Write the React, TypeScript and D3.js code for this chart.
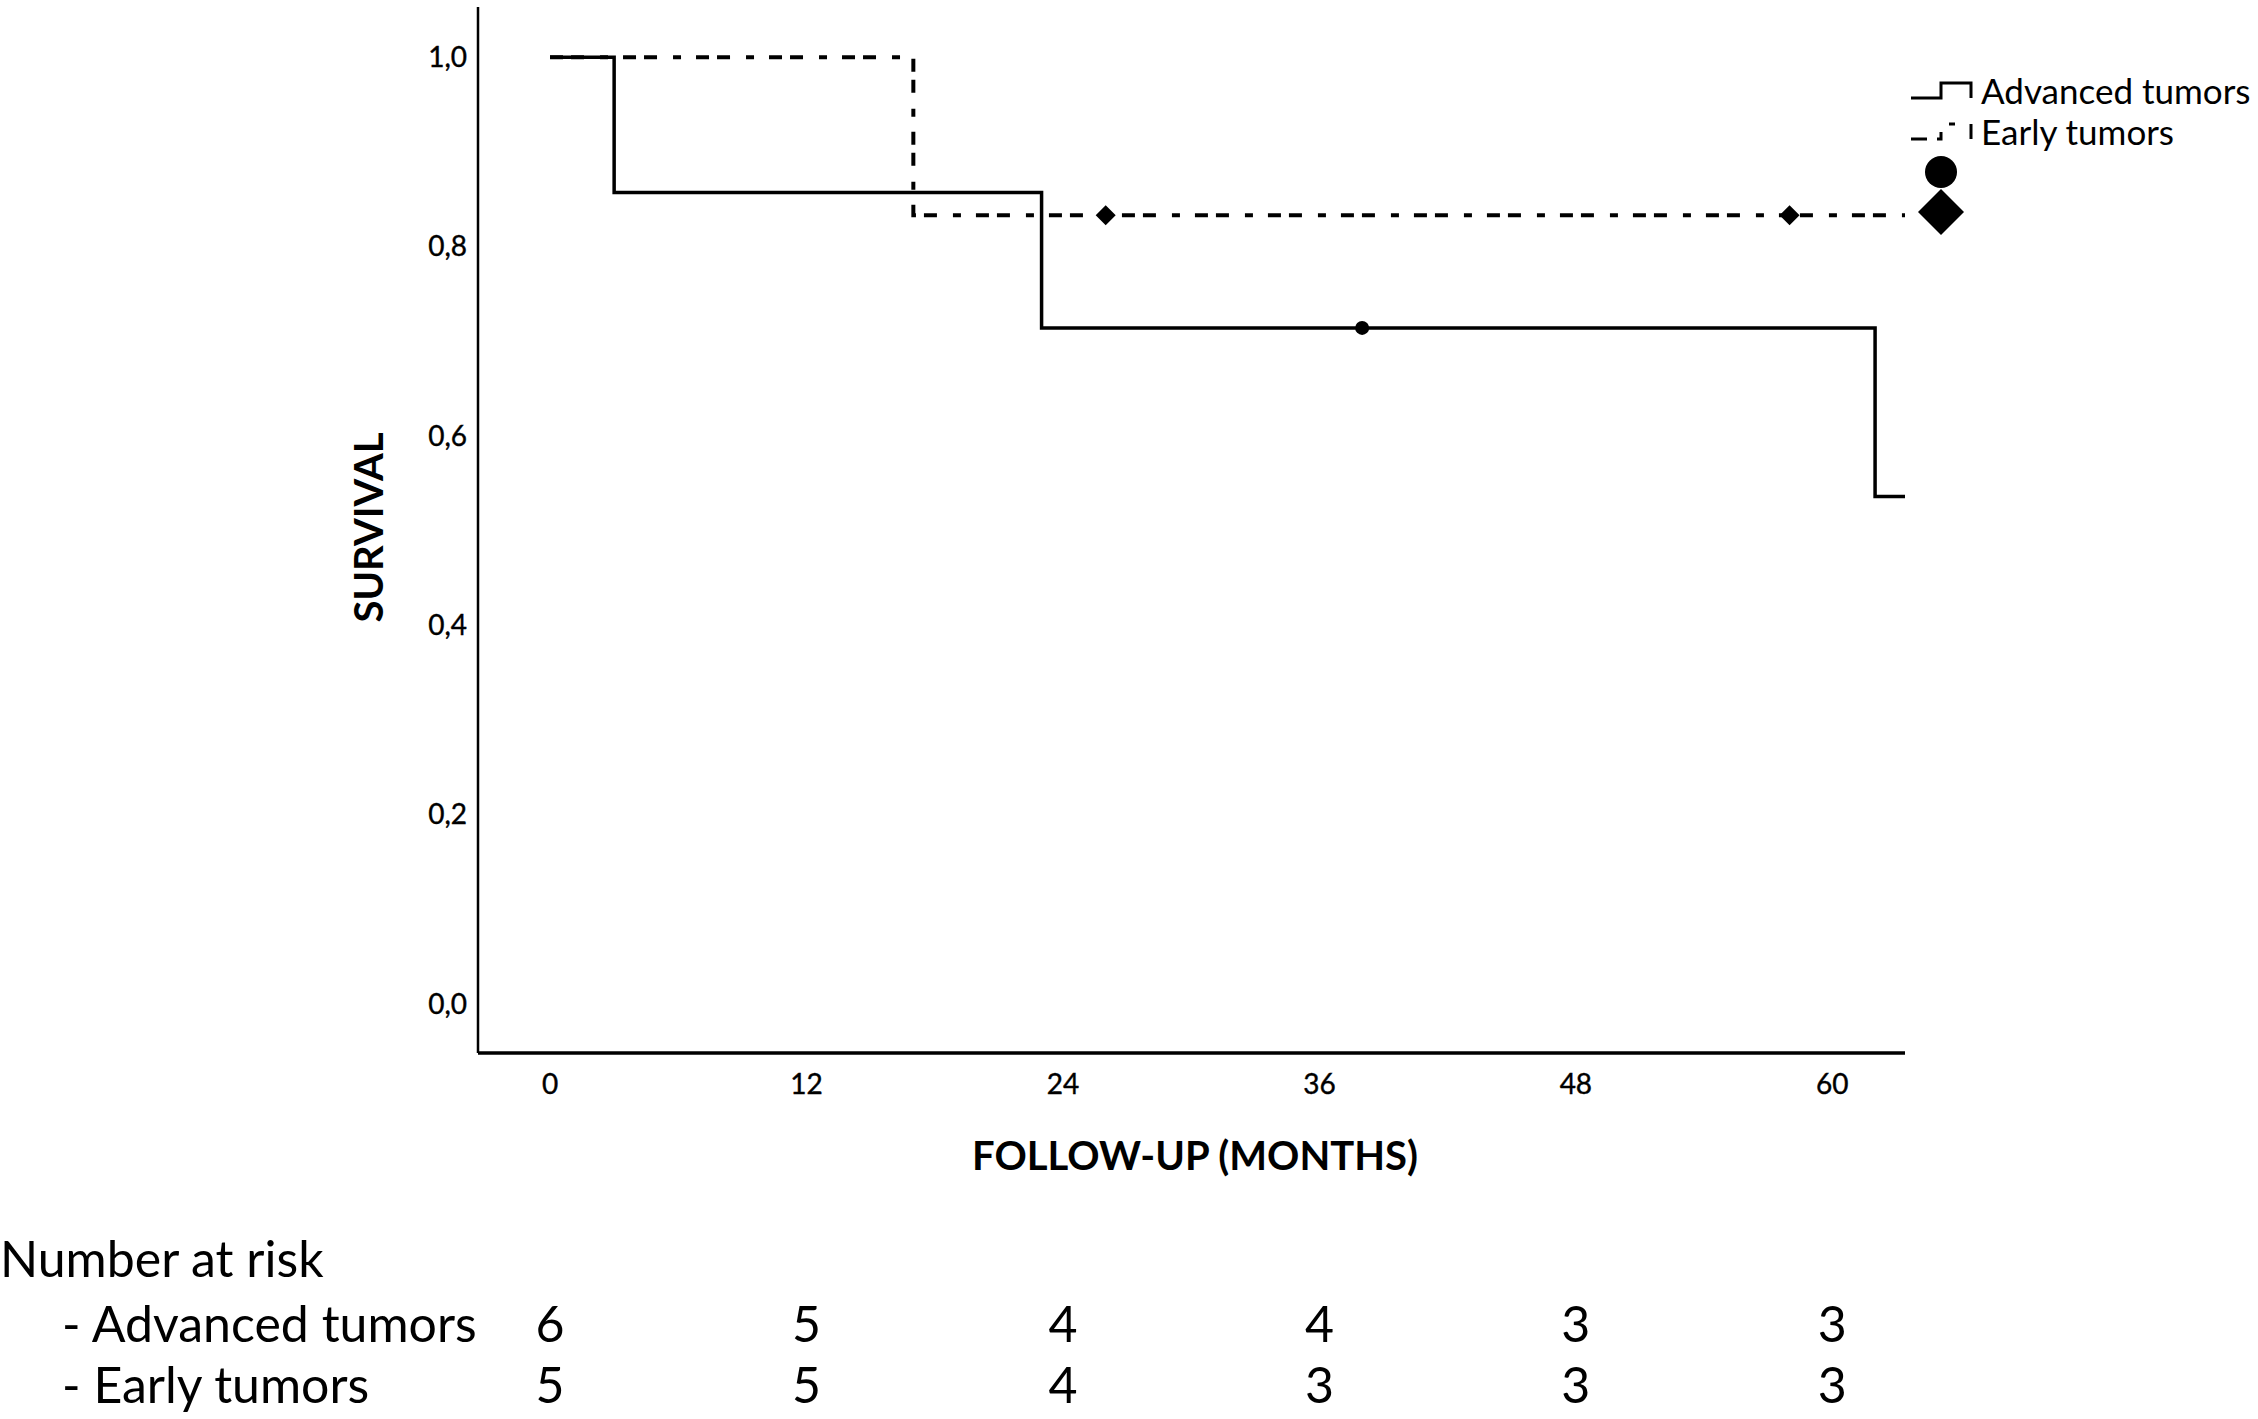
import React from "react";
import * as d3 from "d3";

// ---- data ----
const advancedTimes = [0, 3, 23, 62];
const advancedSurvival = [1, 0.857, 0.714, 0.536];
const advancedCensored = [38];
const earlyTimes = [0, 17];
const earlySurvival = [1, 0.833];
const earlyCensored = [26, 58];
const followUpEnd = 63.4;
const xTicks = [0, 12, 24, 36, 48, 60];
const yTicks = [0, 0.2, 0.4, 0.6, 0.8, 1.0];
const riskTimes = [0, 12, 24, 36, 48, 60];
const riskAdvanced = [6, 5, 4, 4, 3, 3];
const riskEarly = [5, 5, 4, 3, 3, 3];
const seriesNames = ["Advanced tumors", "Early tumors"];

const W = 2258;
const H = 1419;
const FONT = "Lato, 'Open Sans', sans-serif";
const DASH = "13 8 13 16 8 15";

const x = d3.scaleLinear().domain([-3.37, followUpEnd]).range([478, 1905]);
const y = d3.scaleLinear().domain([-0.052, 1.053]).range([1053, 7]);

const stepLine = d3
  .line<[number, number]>()
  .x((d) => x(d[0]))
  .y((d) => y(d[1]))
  .curve(d3.curveStepAfter);

function pts(times: number[], surv: number[]): [number, number][] {
  const p: [number, number][] = times.map((t, i) => [t, surv[i]] as [number, number]);
  p.push([followUpEnd, surv[surv.length - 1]]);
  return p;
}

function survAt(times: number[], surv: number[], t: number) {
  let v = surv[0];
  times.forEach((tt, i) => {
    if (tt <= t) v = surv[i];
  });
  return v;
}

function diamond(cx: number, cy: number, r: number) {
  return `M${cx},${cy - r}L${cx + r},${cy}L${cx},${cy + r}L${cx - r},${cy}Z`;
}

const fmt = (v: number) => d3.format(".1f")(v).replace(".", ",");

export default function App() {
  const legendX = 1911;
  const legendY = [98, 139];
  return (
    <svg
      width={W}
      height={H}
      style={{ position: "absolute", left: 0, top: 0, background: "#fff" }}
      fontFamily={FONT}
    >
      <rect x={0} y={0} width={W} height={H} fill="#fff" />
      {/* axes */}
      <line x1={x.range()[0]} x2={x.range()[0]} y1={y.range()[1]} y2={y.range()[0]} stroke="#000" strokeWidth={2.5} />
      <line x1={x.range()[0]} x2={x.range()[1]} y1={y.range()[0]} y2={y.range()[0]} stroke="#000" strokeWidth={3.5} />
      {yTicks.map((t) => (
        <text key={t} x={467} y={y(t)} dy="0.35em" textAnchor="end" fontSize={28} stroke="#000" strokeWidth={0.4}>
          {fmt(t)}
        </text>
      ))}
      {xTicks.map((t) => (
        <text key={t} x={x(t)} y={1094} textAnchor="middle" fontSize={28} stroke="#000" strokeWidth={0.4}>
          {t}
        </text>
      ))}
      <text x={1195} y={1170} textAnchor="middle" fontSize={40} fontWeight={700}>
        FOLLOW-UP (MONTHS)
      </text>
      <text
        transform={`translate(383,${(y(0) + y(1)) / 2 - 3}) rotate(-90)`}
        textAnchor="middle"
        fontSize={40}
        fontWeight={700}
      >
        SURVIVAL
      </text>

      {/* curves */}
      <path d={stepLine(pts(earlyTimes, earlySurvival)) || ""} fill="none" stroke="#000" strokeWidth={4} strokeDasharray={DASH} />
      <path d={stepLine(pts(advancedTimes, advancedSurvival)) || ""} fill="none" stroke="#000" strokeWidth={3.5} />
      {earlyCensored.map((t) => (
        <path key={t} d={diamond(x(t), y(survAt(earlyTimes, earlySurvival, t)), 10)} fill="#000" />
      ))}
      {advancedCensored.map((t) => (
        <circle key={t} cx={x(t)} cy={y(survAt(advancedTimes, advancedSurvival, t))} r={7} fill="#000" />
      ))}

      {/* legend */}
      {seriesNames.map((name, i) => (
        <g key={name}>
          <path
            d={`M${legendX},${legendY[i]}H${legendX + 30}V${legendY[i] - 15}H${legendX + 60}V${legendY[i]}`}
            fill="none"
            stroke="#000"
            strokeWidth={3}
            strokeDasharray={i === 1 ? "16 10 11 16 6 16 15" : undefined}
          />
          <text x={legendX + 70} y={legendY[i] + 6} fontSize={35}>
            {name}
          </text>
        </g>
      ))}
      <circle cx={legendX + 30} cy={172} r={16} fill="#000" />
      <path d={diamond(legendX + 30, 212, 23)} fill="#000" />

      {/* number at risk */}
      <text x={0} y={1277} fontSize={50}>
        Number at risk
      </text>
      <text x={62} y={1342} fontSize={50}>
        - {seriesNames[0]}
      </text>
      <text x={62} y={1403} fontSize={50}>
        - {seriesNames[1]}
      </text>
      {riskTimes.map((t, i) => (
        <g key={t}>
          <text x={x(t)} y={1342} textAnchor="middle" fontSize={50}>
            {riskAdvanced[i]}
          </text>
          <text x={x(t)} y={1403} textAnchor="middle" fontSize={50}>
            {riskEarly[i]}
          </text>
        </g>
      ))}
    </svg>
  );
}
